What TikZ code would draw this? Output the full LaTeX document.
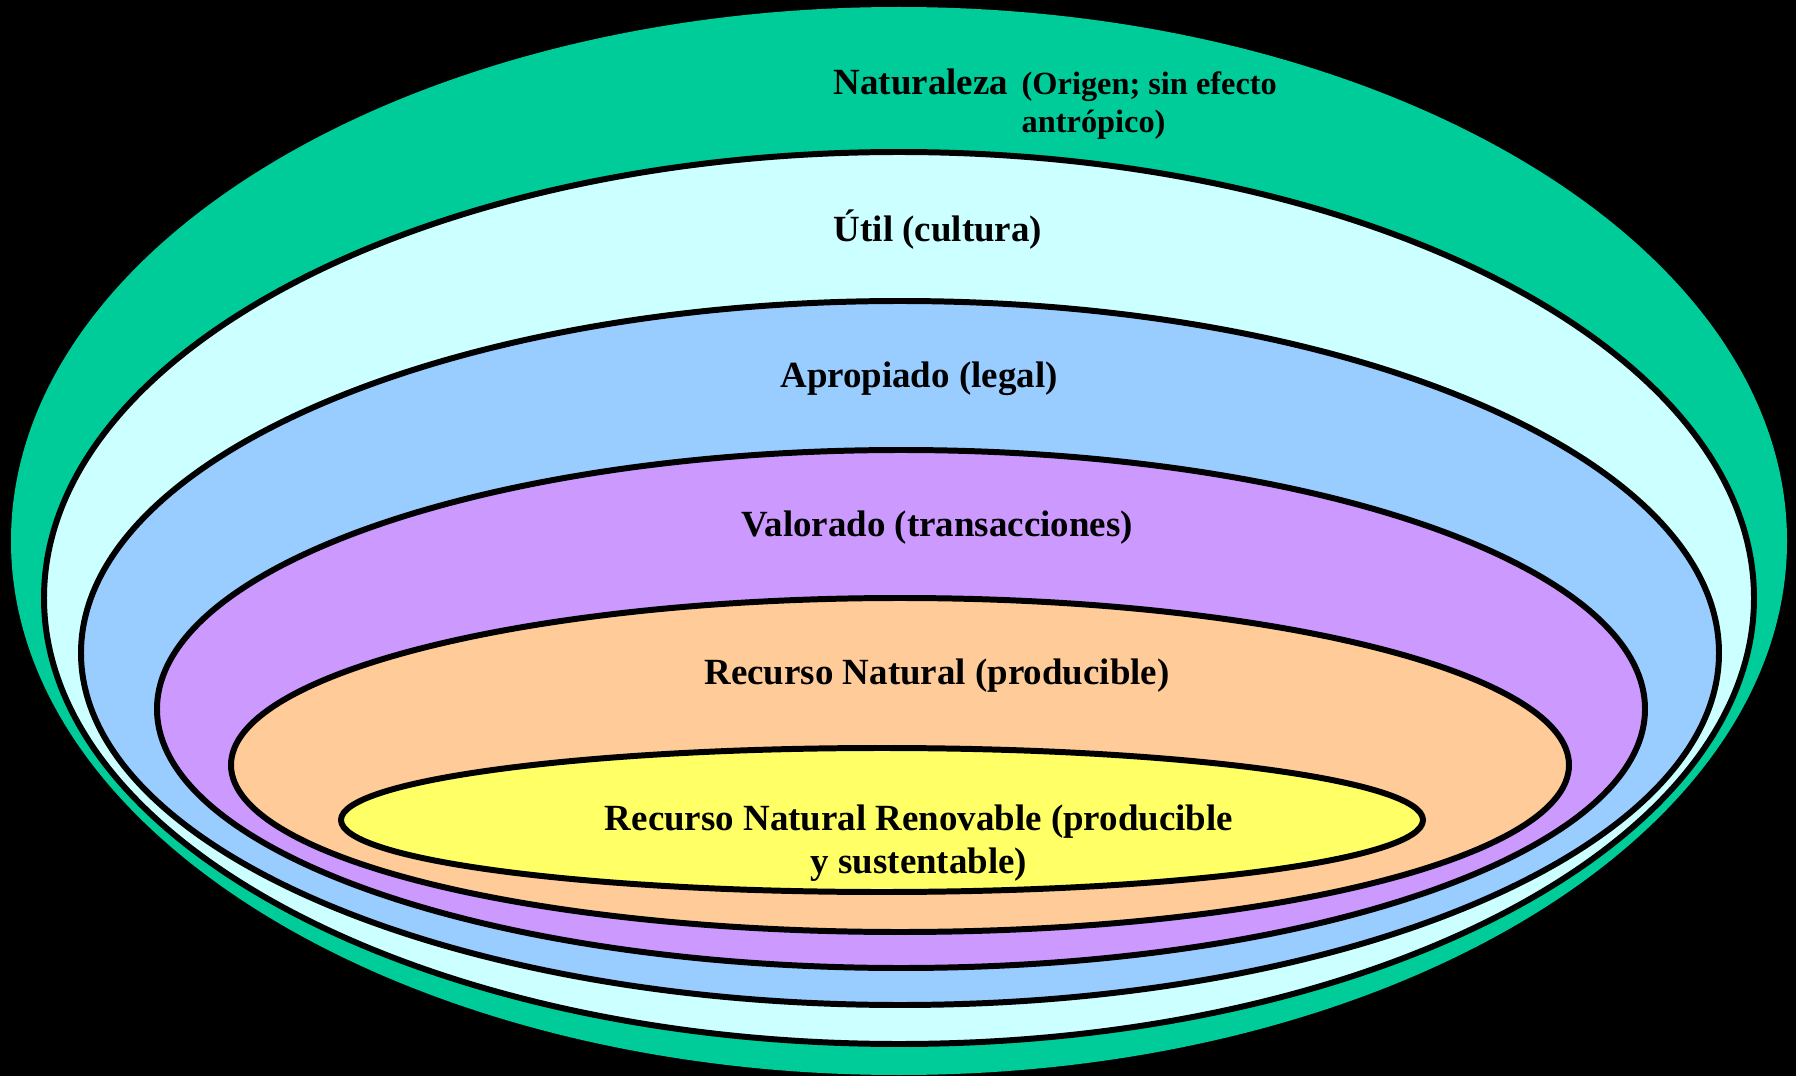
\documentclass[tikz,border=0pt]{standalone}
\usepackage{fontspec}
\setmainfont{Liberation Serif}
\definecolor{verde}{HTML}{00CC99}
\definecolor{celeste}{HTML}{CCFFFF}
\definecolor{azul}{HTML}{99CCFF}
\definecolor{lila}{HTML}{CC99FF}
\definecolor{durazno}{HTML}{FFCC99}
\definecolor{amarillo}{HTML}{FFFF66}
\begin{document}
\begin{tikzpicture}[x=0.01cm, y=-0.01cm,
    ring/.style={draw=black, line width=1.7pt},
    lbl/.style={font=\fontsize{10.5}{12}\selectfont\bfseries, inner sep=0pt}]

    % fondo
    \fill[black] (0,0) rectangle (1796,1076);
    \useasboundingbox (0,0) rectangle (1796,1076);

    % anillos, de fuera hacia dentro
    \fill[verde] (899,541) ellipse [x radius=888, y radius=534];
    \filldraw[ring, fill=celeste] (899,598) ellipse [x radius=855, y radius=446];
    \filldraw[ring, fill=azul] (900,653) ellipse [x radius=819, y radius=352];
    \filldraw[ring, fill=lila] (901,709) ellipse [x radius=744, y radius=259];
    \filldraw[ring, fill=durazno] (900,765) ellipse [x radius=669, y radius=167];
    \filldraw[ring, fill=amarillo] (882,820) ellipse [x radius=541, y radius=72];

    % textos
    \node[lbl, anchor=base west] (naturaleza) at (833,95) {Naturaleza};
    \node[lbl, anchor=base west, font=\fontsize{9.2}{11}\selectfont\bfseries] (origen) at (1021,95) {(Origen; sin efecto};
    \node[lbl, anchor=base west, font=\fontsize{9.2}{11}\selectfont\bfseries] (antropico) at (1021,133) {antrópico)};
    \node[lbl] (util) at (938,230) {Útil (cultura)};
    \node[lbl] (apropiado) at (919,379) {Apropiado (legal)};
    \node[lbl] (valorado) at (937,528) {Valorado (transacciones)};
    \node[lbl] (recurso) at (937,676) {Recurso Natural (producible)};
    \node[lbl, align=center, font=\fontsize{10.5}{12.2}\selectfont\bfseries] (renovable) at (919,843)
        {Recurso Natural Renovable (producible\\y sustentable)};

\end{tikzpicture}
\end{document}
